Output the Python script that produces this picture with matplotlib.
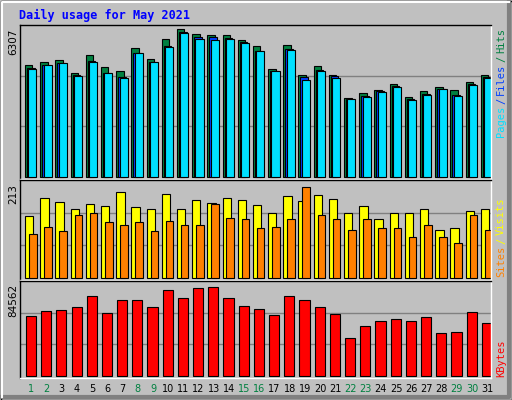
import numpy as np
import matplotlib
matplotlib.use("Agg")
import matplotlib.pyplot as plt
from matplotlib.patches import Rectangle

days = np.arange(1, 32)
weekend = [1, 2, 8, 9, 15, 16, 22, 23, 29, 30]

hits = [4766, 4909, 4980, 4424, 5194, 4681, 4509, 5494, 5023, 5879, 6307, 6108, 6065, 6065, 5836, 5580,
        4595, 5622, 4338, 4723, 4338, 3353, 3568, 3710, 3953, 3396, 3667, 3824, 3710, 4038, 4338]
files = [4652, 4795, 4866, 4338, 4937, 4452, 4281, 5308, 4909, 5594, 6193, 5993, 5965, 5922, 5751, 5394,
         4538, 5480, 4252, 4566, 4295, 3325, 3453, 3667, 3867, 3325, 3539, 3767, 3496, 3953, 4252]
pages = [4623, 4766, 4852, 4295, 4895, 4424, 4238, 5280, 4895, 5565, 6165, 5879, 5836, 5879, 5736, 5365,
         4509, 5408, 4124, 4523, 4238, 3311, 3396, 3610, 3824, 3268, 3510, 3739, 3468, 3910, 4238]
visits = [144, 188, 178, 162, 174, 169, 201, 167, 162, 197, 162, 183, 176, 188, 183, 171,
          151, 192, 181, 195, 185, 153, 169, 137, 153, 151, 162, 113, 118, 157, 162]
sites = [102, 120, 111, 148, 153, 130, 123, 132, 111, 134, 123, 125, 174, 141, 137, 118,
         120, 139, 213, 148, 137, 113, 139, 116, 116, 97, 125, 97, 83, 148, 113]
kbytes = [56693, 61340, 62269, 65987, 76210, 59481, 72493, 72493, 65058, 81787, 74352, 83646, 84562,
          74352, 66917, 63199, 57622, 76210, 72493, 65058, 58552, 36247, 47399, 52046, 53905, 52046,
          55764, 40894, 41823, 60411, 50188]

BG = "#c0c0c0"
W, H = 512, 400
fig = plt.figure(figsize=(W / 100, H / 100), dpi=100, facecolor=BG)
mono = "DejaVu Sans Mono"

# bevelled outer border
ov = fig.add_axes([0, 0, 1, 1], facecolor="none")
ov.set_xlim(0, W); ov.set_ylim(H, 0); ov.axis("off")
ov.add_patch(Rectangle((0.5, 0.5), W - 1, H - 1, fill=False, ec="black", lw=1))
ov.plot([2, W - 3, W - 3], [H - 3, H - 3, 2], color="#808080", lw=3)
ov.plot([2, 2, W - 3], [H - 3, 2, 2], color="white", lw=1.5)

fig.text(19 / W, 1 - 15 / H, "Daily usage for May 2021", color="#0000ff", family=mono,
         fontweight="bold", fontsize=8.5, va="center")


def panel(y0, y1):
    ax = fig.add_axes([20 / W, 1 - y1 / H, 471 / W, (y1 - y0) / H], facecolor=BG)
    ax.set_xlim(0.65, 31.65)
    ax.set_xticks([]); ax.set_yticks([])
    for s in ax.spines.values():
        s.set_color("black"); s.set_linewidth(1)
    ax.spines["right"].set_color("white"); ax.spines["bottom"].set_color("white")
    return ax


def grid(ax, top):
    for f in (1 / 3, 2 / 3):
        ax.axhline(top * f, color="#808080", lw=1, zorder=0)


kw = dict(align="edge", edgecolor="black", linewidth=0.8)

ax1 = panel(25, 179)
top1 = 6307 * 152 / 147.5
ax1.set_ylim(-6307 * 0.015, top1)
grid(ax1, top1)
ax1.bar(days - 0.02, hits, 0.49, color="#008040", **kw)
ax1.bar(days + 0.11, files, 0.5, color="#0040ff", **kw)
ax1.bar(days + 0.2, pages, 0.53, color="#00e0ff", **kw)

ax2 = panel(180, 280)
top2 = 213 * 99 / 92
ax2.set_ylim(-213 * 0.02, top2)
grid(ax2, top2)
ax2.bar(days - 0.02, visits, 0.55, color="#ffff00", **kw)
ax2.bar(days + 0.24, sites, 0.5, color="#ff8000", **kw)

ax3 = panel(281, 378)
top3 = 84562 * 97 / 91
ax3.set_ylim(-84562 * 0.02, top3)
grid(ax3, top3)
ax3.bar(days + 0.04, kbytes, 0.67, color="#ff0000", **kw)

# y max labels
for y, s in [(29, "6307"), (184, "213"), (284, "84562")]:
    fig.text(13 / W, 1 - y / H, s, rotation=90, ha="center", va="top", fontsize=7.5, color="black")

# day labels
for d in days:
    x = 20 + (d + 0.4 - 0.65) * 471 / 31
    fig.text(x / W, 1 - 389 / H, str(d), ha="center", va="center", fontsize=7,
             color="#008040" if d in weekend else "black")


def side(parts, ybottom):
    y = ybottom
    for txt, col in parts:
        t = fig.text(501 / W, 1 - y / H, txt, rotation=90, ha="center", va="bottom",
                     family=mono, fontsize=7.5, color=col)
        y -= len(txt) * 6.0 + 3


side([("Pages", "#00e0ff"), ("/", "#0040ff"), ("Files", "#0040ff"), ("/", "#008040"), ("Hits", "#008040")], 137)
side([("Sites", "#ff8000"), ("/", "#ffff00"), ("Visits", "#ffff00")], 277)
side([("KBytes", "#ff0000")], 377)

fig.savefig("out.png", dpi=100, facecolor=BG)
